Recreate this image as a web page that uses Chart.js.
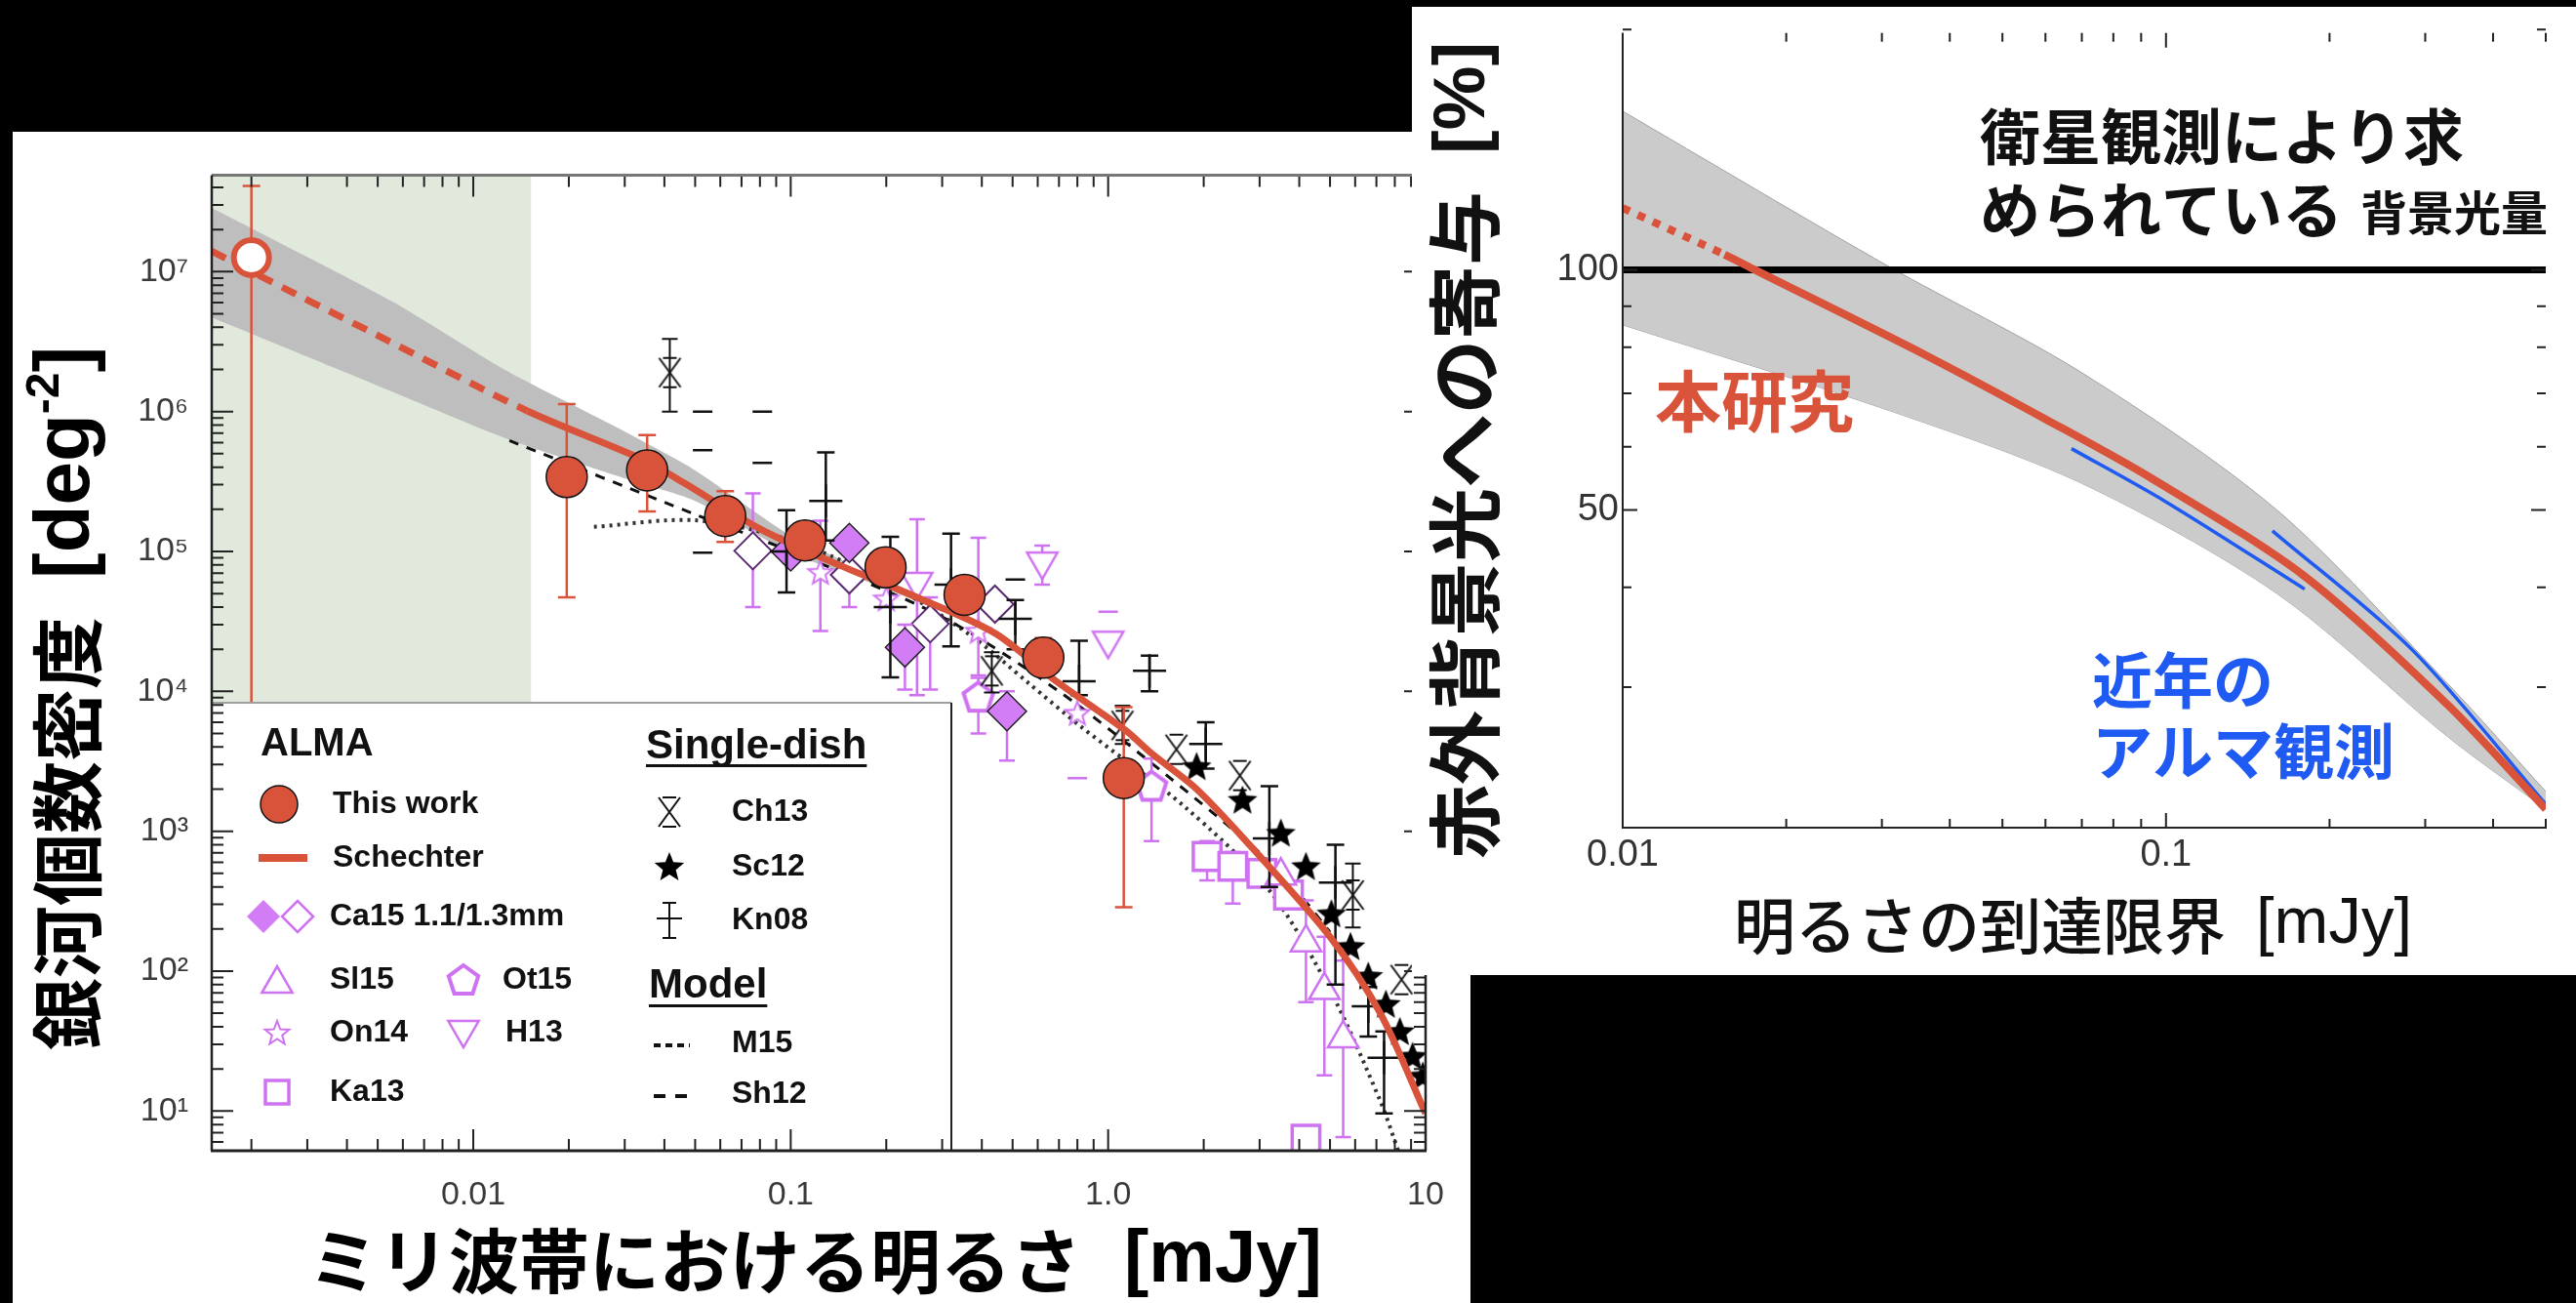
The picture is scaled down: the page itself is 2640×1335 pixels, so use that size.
<!DOCTYPE html>
<html>
<head>
<meta charset="utf-8">
<script src="https://cdn.jsdelivr.net/npm/chart.js@4.4.0/dist/chart.umd.min.js"></script>
<style>
html, body { margin: 0; padding: 0; background: #000; }
body { width: 2640px; height: 1335px; position: relative; overflow: hidden; }
#left { position: absolute; left: 13px; top: 135px; background: #fff; }
#right { position: absolute; left: 1447px; top: 7px; background: #fff; }
</style>
</head>
<body>
<canvas id="left" width="1494" height="1200"></canvas>
<canvas id="right" width="1193" height="992"></canvas>
<script>
// ---------- left panel : galaxy number counts ----------
const thisWorkX  = [0.002, 0.0197, 0.0353, 0.0622, 0.111, 0.199, 0.353, 0.625, 1.12];
const thisWorkY  = [1.26e7, 3.4e5, 3.8e5, 1.79e5, 1.2e5, 7.7e4, 4.9e4, 1.74e4, 2.4e3];
const thisWorkLo = [2, 4.7e4, 1.93e5, 1.17e5, 1.0e5, 6.6e4, 4.2e4, 1.3e4, 286];
const thisWorkHi = [4.1e7, 1.13e6, 6.8e5, 2.7e5, 1.4e5, 9.0e4, 5.7e4, 2.4e4, 7.7e3];

const schX = [0.0015, 0.002, 0.005, 0.0148, 0.0345, 0.046, 0.08, 0.135, 0.25, 0.44, 0.68, 1.13, 1.37, 1.9, 2.78, 5.0, 7.2, 10];
const schY = [1.4e7, 1.0e7, 3.5e6, 1.01e6, 4.5e5, 3.1e5, 1.45e5, 8.4e4, 4.7e4, 2.6e4, 1.2e4, 5.3e3, 3.6e3, 2.0e3, 804, 176, 50, 9.6];
const schDashedBelow = 0.0148;

const bandX  = [0.0015, 0.0055, 0.0125, 0.028, 0.05, 0.1, 0.2, 0.3];
const bandHi = [2.86e7, 6.2e6, 2.0e6, 7.8e5, 3.8e5, 1.3e5, 6.3e4, 4.1e4];
const bandLo = [4.7e6, 1.4e6, 6.5e5, 3.5e5, 2.3e5, 9.8e4, 5.4e4, 3.7e4];

const sh12X = [0.013, 0.05, 0.1, 0.3, 0.7, 1.5, 2.85, 3.7, 5.0];
const sh12Y = [6.2e5, 1.84e5, 1.0e5, 3.4e4, 1.0e4, 2.6e3, 780, 440, 190];
const m15X = [0.024, 0.05, 0.1, 0.2, 0.37, 0.56, 0.82, 1.74, 3.2, 5.0, 7.2, 8.2];
const m15Y = [1.5e5, 1.67e5, 1.2e5, 6.0e4, 2.5e4, 1.15e4, 5.6e3, 1.5e3, 385, 73, 11.8, 5.2];

const ch13X  = [0.0416, 0.43, 1.11, 1.64, 2.6, 5.9, 8.4];
const ch13Y  = [1.9e6, 1.4e4, 5.7e3, 3.85e3, 2.5e3, 350, 87];
const ch13Lo = [1.0e6, 9.8e3, 4.2e3, null, null, 205, null];
const ch13Hi = [3.3e6, 1.9e4, 7.9e3, null, null, 587, null];

const sc12X = [1.9, 2.65, 3.5, 4.2, 5.05, 5.8, 6.6, 7.5, 8.3, 9.1, 9.8];
const sc12Y = [2.9e3, 1.67e3, 970, 560, 257, 150, 92, 58, 37, 24.6, 17.8];

const kn08X  = [0.097, 0.129, 0.206, 0.32, 0.51, 0.81, 1.35, 2.03, 3.22, 5.2, 6.6, 7.4];
const kn08Y  = [1.0e5, 2.3e5, 4.0e4, 5.8e4, 3.3e4, 1.18e4, 1.4e4, 4.2e3, 890, 430, 56, 24];
const kn08Lo = [5.1e4, 1.2e5, 1.26e4, 2.1e4, 2.0e4, 9.4e3, 1.0e4, 2.8e3, 400, 80, 34, 9.6];
const kn08Hi = [1.97e5, 5.1e5, 1.27e5, 1.34e5, 4.5e4, 2.3e4, 1.8e4, 6.0e3, 2.1e3, 800, 77, 37];
const capsX = [0.0528, 0.0814, 0.0528, 0.0814, 0.0528, 0.51];
const capsY = [1.0e6, 1.0e6, 5.3e5, 4.3e5, 9.8e4, 6.3e4];

const ca15FX  = [0.1, 0.153, 0.229, 0.48];
const ca15FY  = [1.0e5, 1.15e5, 2.06e4, 7.2e3];
const ca15FLo = [null, null, 1.03e4, 3.2e3];
const ca15FHi = [null, null, 3.0e4, 1.0e4];
const ca15OX  = [0.076, 0.153, 0.275, 0.44];
const ca15OY  = [1.01e5, 6.8e4, 3.04e4, 4.2e4];
const ca15OLo = [4.0e4, 4.0e4, 1.03e4, null];
const ca15OHi = [2.6e5, 8.0e4, 4.7e4, null];

const sl15X  = [3.5, 4.2, 4.8, 5.5];
const sl15Y  = [480, 160, 73, 33];
const sl15Lo = [null, 60, 18, 6.5];
const sl15Hi = [null, 320, 176, 119];
const ot15X  = [0.39, 1.37];
const ot15Y  = [9.1e3, 2.1e3];
const ot15Lo = [5.0e3, 850];
const ot15Hi = [1.25e4, 3.3e3];
const on14X  = [0.124, 0.2, 0.39, 0.8];
const on14Y  = [7.1e4, 4.6e4, 2.7e4, 7.0e3];
const on14Lo = [2.7e4, null, 1.3e4, null];
const on14Hi = [1.66e5, null, 1.25e5, null];
const h13X  = [0.25, 0.62, 1.0];
const h13Y  = [5.8e4, 8.1e4, 2.2e4];
const h13Lo = [9.4e3, 5.8e4, null];
const h13Hi = [1.7e5, 1.1e5, 3.8e4];
const ka13X  = [2.05, 2.47, 3.05, 3.7, 4.2];
const ka13Y  = [660, 560, 500, 350, 6.3];
const ka13Lo = [445, 304, null, 68, null];
const ka13Hi = [850, 710, null, null, 31];
const pDashX = [1.0, 0.8];
const pDashY = [3.7e4, 2.4e3];

const greenLimit = 0.0152;
const leftXTicks = [0.01, 0.1, 1, 10];
const leftXLabels = ['0.01', '0.1', '1.0', '10'];
const leftYTicks = [10, 100, 1e3, 1e4, 1e5, 1e6, 1e7];
const leftYLabels = ['10¹', '10²', '10³', '10⁴', '10⁵', '10⁶', '10⁷'];

// ---------- right panel : contribution to the IR background ----------
const rRedX = [0.01, 0.0154, 0.0175, 0.0362, 0.06, 0.094, 0.18, 0.33, 0.5];
const rRedY = [119.5, 104.5, 100, 78.1, 65, 54.8, 41.3, 28.5, 21.1];
const rDottedBelow = 0.0154;
const rLineX = [0.01, 0.5];
const rLineY = [100, 100];
const rBlue1X = [0.067, 0.1, 0.18];
const rBlue1Y = [59.7, 51.2, 39.8];
const rBlue2X = [0.157, 0.284, 0.5];
const rBlue2Y = [47.1, 33.4, 21.4];
const rBandX  = [0.01, 0.031, 0.07, 0.16, 0.33, 0.5];
const rBandHi = [158, 100.8, 74.3, 50, 30.3, 22.2];
const rBandLo = [85.3, 66.6, 54, 39.3, 26, 21.1];
const rightXTicks = [0.01, 0.1];
const rightXLabels = ['0.01', '0.1'];
const rightYTicks = [50, 100];
const rightYLabels = ['50', '100'];

const RED = '#d9533b';
const PURPLE = '#cf72f2';
const PURPLE_FILL = '#d27cf6';
const BLUE = '#1f5af2';
const CJK = '"Noto Sans CJK JP", "Noto Sans CJK SC", sans-serif';
const LAT = '"Liberation Sans", Arial, sans-serif';

function pts(xs, ys) {
    return xs.map((x, i) => ({ x: x, y: ys[i] }));
}

function markCanvas(size, draw) {
    const c = document.createElement('canvas');
    c.width = size; c.height = size;
    draw(c.getContext('2d'), size / 2);
    return c;
}
function starPath(g, cx, cy, ro, ri) {
    g.beginPath();
    for (let k = 0; k < 10; k++) {
        const r = k % 2 ? ri : ro, t = -Math.PI / 2 + k * Math.PI / 5;
        g.lineTo(cx + r * Math.cos(t), cy + r * Math.sin(t));
    }
    g.closePath();
}
function polyPath(g, cx, cy, r, n, start) {
    g.beginPath();
    for (let k = 0; k < n; k++) {
        const t = start + k * 2 * Math.PI / n;
        g.lineTo(cx + r * Math.cos(t), cy + r * Math.sin(t));
    }
    g.closePath();
}

const starBlack = markCanvas(36, (g, c) => { starPath(g, c, c + 1, 16, 7); g.fillStyle = '#000'; g.fill(); });
const starPurple = markCanvas(32, (g, c) => { starPath(g, c, c + 1, 13, 5.5); g.fillStyle = '#fff'; g.fill(); g.lineWidth = 2; g.strokeStyle = PURPLE; g.stroke(); });
const pentPurple = markCanvas(42, (g, c) => { polyPath(g, c, c + 1, 16, 5, -Math.PI / 2); g.fillStyle = '#fff'; g.fill(); g.lineWidth = 4; g.strokeStyle = PURPLE; g.stroke(); });
const triDownPurple = markCanvas(42, (g, c) => { polyPath(g, c, c - 3, 18, 3, Math.PI / 2); g.fillStyle = '#fff'; g.fill(); g.lineWidth = 2.5; g.strokeStyle = PURPLE; g.stroke(); });
// Ch13: an x with short caps above and below
const ch13Mark = markCanvas(40, (g, c) => {
    g.strokeStyle = '#111'; g.lineWidth = 2;
    g.beginPath();
    g.moveTo(c - 11, c - 15); g.lineTo(c + 11, c + 15);
    g.moveTo(c + 11, c - 15); g.lineTo(c - 11, c + 15);
    g.moveTo(c - 7, c - 15); g.lineTo(c + 7, c - 15);
    g.moveTo(c - 7, c + 15); g.lineTo(c + 7, c + 15);
    g.stroke();
});

function logTicks(min, max, majors) {
    const out = [];
    for (let e = Math.floor(Math.log10(min)); e <= Math.ceil(Math.log10(max)); e++) {
        for (let m = 1; m <= 9; m++) {
            const v = +(m * Math.pow(10, e)).toPrecision(6);
            if (v >= min && v <= max * 1.0001) out.push({ v: v, major: majors ? majors.includes(v) : m === 1 });
        }
    }
    return out;
}

// error bars, drawn just under the points of their own dataset
const errorBars = {
    id: 'errorBars',
    beforeDatasetDraw(chart, args) {
        const ds = chart.data.datasets[args.index];
        if (!ds.errLo) return;
        const { ctx, chartArea: a, scales: { x, y } } = chart;
        const cap = ds.capW || 8;
        ctx.save();
        ctx.beginPath();
        ctx.rect(a.left, a.top, a.right - a.left, a.bottom - a.top);
        ctx.clip();
        ctx.strokeStyle = ds.errColor;
        ctx.lineWidth = ds.errWidth || 2;
        ds.data.forEach((p, i) => {
            const lo = ds.errLo[i], hi = ds.errHi[i];
            if (lo == null || hi == null) return;
            const px = x.getPixelForValue(p.x);
            const yHi = y.getPixelForValue(hi), yLo = y.getPixelForValue(lo);
            ctx.beginPath();
            ctx.moveTo(px, yHi); ctx.lineTo(px, yLo);
            ctx.moveTo(px - cap, yHi); ctx.lineTo(px + cap, yHi);
            ctx.moveTo(px - cap, yLo); ctx.lineTo(px + cap, yLo);
            ctx.stroke();
        });
        ctx.restore();
    }
};

function drawFrameTicks(chart, o) {
    const { ctx, chartArea: a, scales: { x, y } } = chart;
    ctx.save();
    ctx.strokeStyle = o.color;
    ctx.lineWidth = o.tickWidth;
    ctx.beginPath();
    o.xTicks.forEach(t => {
        const px = x.getPixelForValue(t.v), len = t.major ? o.major : o.minor;
        if (o.bottom) { ctx.moveTo(px, a.bottom); ctx.lineTo(px, a.bottom - len); }
        if (o.top) { ctx.moveTo(px, a.top); ctx.lineTo(px, a.top + len); }
    });
    o.yTicks.forEach(t => {
        const py = y.getPixelForValue(t.v), len = t.major ? o.major : o.minor;
        if (o.left) { ctx.moveTo(a.left, py); ctx.lineTo(a.left + len, py); }
        if (o.right) { ctx.moveTo(a.right, py); ctx.lineTo(a.right - len, py); }
    });
    ctx.stroke();
    o.lines.forEach(l => {
        ctx.strokeStyle = l[1];
        ctx.lineWidth = l[2];
        ctx.beginPath();
        if (l[0] === 'left') { ctx.moveTo(a.left, a.top); ctx.lineTo(a.left, a.bottom); }
        if (l[0] === 'right') { ctx.moveTo(a.right, a.top); ctx.lineTo(a.right, a.bottom); }
        if (l[0] === 'top') { ctx.moveTo(a.left, a.top); ctx.lineTo(a.right, a.top); }
        if (l[0] === 'bottom') { ctx.moveTo(a.left - 1, a.bottom); ctx.lineTo(a.right + 1, a.bottom); }
        ctx.stroke();
    });
    ctx.restore();
}

// text made of pieces in different fonts, drawn left to right from (x, y)
function drawParts(ctx, parts, x, y) {
    let cx = x;
    parts.forEach(p => {
        ctx.font = p[1];
        ctx.fillText(p[0], cx, y + (p[2] || 0));
        cx += ctx.measureText(p[0]).width + (p[3] || 0);
    });
}

function drawLeftLegend(chart) {
    const { ctx, chartArea: a } = chart;
    const top = 585, right = 962;
    ctx.save();
    ctx.fillStyle = '#fff';
    ctx.fillRect(a.left, top, right - a.left, a.bottom - top);
    ctx.lineWidth = 2;
    ctx.strokeStyle = '#a0a0a0';
    ctx.beginPath(); ctx.moveTo(a.left, top); ctx.lineTo(right, top); ctx.stroke();
    ctx.strokeStyle = '#222';
    ctx.beginPath(); ctx.moveTo(right, top); ctx.lineTo(right, a.bottom); ctx.stroke();

    ctx.fillStyle = '#111';
    ctx.textAlign = 'left';
    ctx.textBaseline = 'middle';
    ctx.font = 'bold 40px ' + LAT;
    ctx.fillText('ALMA', 254, 628);
    ctx.font = 'bold 42px ' + LAT;
    ctx.fillText('Single-dish', 649, 630);
    let w = ctx.measureText('Single-dish').width;
    ctx.fillRect(649, 648, w, 3);
    ctx.fillText('Model', 652, 875);
    w = ctx.measureText('Model').width;
    ctx.fillRect(652, 894, w, 3);

    ctx.font = 'bold 32px ' + LAT;
    ctx.fillText('This work', 328, 689);
    ctx.fillText('Schechter', 328, 744);
    ctx.fillText('Ca15 1.1/1.3mm', 325, 804);
    ctx.fillText('Sl15', 325, 869);
    ctx.fillText('Ot15', 502, 869);
    ctx.fillText('On14', 325, 923);
    ctx.fillText('H13', 505, 923);
    ctx.fillText('Ka13', 325, 984);
    ctx.fillText('Ch13', 737, 697);
    ctx.fillText('Sc12', 737, 753);
    ctx.fillText('Kn08', 737, 808);
    ctx.fillText('M15', 737, 934);
    ctx.fillText('Sh12', 737, 986);

    // markers
    ctx.beginPath(); ctx.arc(273, 689, 19, 0, Math.PI * 2);
    ctx.fillStyle = RED; ctx.fill(); ctx.lineWidth = 1.5; ctx.strokeStyle = '#111'; ctx.stroke();
    ctx.fillStyle = RED; ctx.fillRect(252, 740, 50, 8);
    polyPath(ctx, 257, 804, 17, 4, 0);
    ctx.fillStyle = PURPLE_FILL; ctx.fill();
    polyPath(ctx, 292, 804, 16, 4, 0);
    ctx.fillStyle = '#fff'; ctx.fill(); ctx.strokeStyle = PURPLE; ctx.lineWidth = 2.5; ctx.stroke();
    polyPath(ctx, 271, 873, 18, 3, -Math.PI / 2);
    ctx.stroke();
    ctx.drawImage(pentPurple, 462 - 21, 869 - 21);
    ctx.drawImage(starPurple, 271 - 16, 923 - 16);
    ctx.drawImage(triDownPurple, 462 - 21, 923 - 21);
    ctx.lineWidth = 3.5;
    ctx.strokeRect(259, 972, 24, 24);
    ctx.drawImage(starBlack, 673 - 18, 753 - 18);
    ctx.drawImage(ch13Mark, 673 - 20, 697 - 20);
    ctx.strokeStyle = '#111'; ctx.lineWidth = 2;
    ctx.beginPath();
    ctx.moveTo(673, 790); ctx.lineTo(673, 826);
    ctx.moveTo(666, 790); ctx.lineTo(680, 790);
    ctx.moveTo(666, 826); ctx.lineTo(680, 826);
    ctx.moveTo(660, 806); ctx.lineTo(686, 806);
    ctx.stroke();
    ctx.lineWidth = 4;
    ctx.setLineDash([7, 5]);
    ctx.beginPath(); ctx.moveTo(657, 936); ctx.lineTo(694, 936); ctx.stroke();
    ctx.setLineDash([12, 10]);
    ctx.beginPath(); ctx.moveTo(657, 988); ctx.lineTo(694, 988); ctx.stroke();
    ctx.restore();
}

const leftDecor = {
    id: 'leftDecor',
    beforeDatasetsDraw(chart) {
        const { ctx, chartArea: a, scales: { x } } = chart;
        ctx.save();
        ctx.fillStyle = '#e1e8dc';
        ctx.fillRect(a.left, a.top, x.getPixelForValue(greenLimit) - a.left, a.bottom - a.top);
        ctx.restore();
    },
    afterDatasetsDraw(chart) {
        drawLeftLegend(chart);
        drawFrameTicks(chart, {
            xTicks: logTicks(0.0015, 10), yTicks: logTicks(5.2, 4.9e7),
            major: 22, minor: 12, color: '#222', tickWidth: 2,
            bottom: true, top: true, left: true, right: true,
            lines: [['top', '#777', 3], ['left', '#222', 2.5], ['right', '#222', 2.5], ['bottom', '#222', 3]]
        });
    },
    afterDraw(chart) {
        const ctx = chart.ctx;
        ctx.save();
        ctx.fillStyle = '#000';
        ctx.textAlign = 'left';
        ctx.textBaseline = 'middle';
        drawParts(ctx, [['ミリ波帯における明るさ', 'bold 72px ' + CJK, 0, 44], ['[mJy]', 'bold 76px ' + LAT]], 303, 1157);
        ctx.translate(56, 941);
        ctx.rotate(-Math.PI / 2);
        drawParts(ctx, [['銀河個数密度', 'bold 74px ' + CJK, 0, 39], ['[deg', 'bold 80px ' + LAT], ['-2', 'bold 48px ' + LAT, -22], [']', 'bold 80px ' + LAT]], 0, 0);
        ctx.restore();
    }
};

const rightDecor = {
    id: 'rightDecor',
    afterDatasetsDraw(chart) {
        drawFrameTicks(chart, {
            xTicks: logTicks(0.01, 0.5),
            yTicks: logTicks(20, 200, [50, 100]),
            major: 15, minor: 9, color: '#222', tickWidth: 2,
            bottom: true, top: true, left: true, right: true,
            lines: [['left', '#222', 2], ['bottom', '#222', 2]]
        });
    },
    afterDraw(chart) {
        const ctx = chart.ctx;
        ctx.save();
        ctx.textAlign = 'left';
        ctx.textBaseline = 'middle';
        ctx.fillStyle = '#111';
        ctx.font = 'bold 62px ' + CJK;
        ctx.fillText('衛星観測により求', 582, 133);
        ctx.fillText('められている', 582, 208);
        ctx.font = 'bold 48px ' + CJK;
        ctx.fillText('背景光量', 972, 211);
        ctx.fillStyle = RED;
        ctx.font = 'bold 68px ' + CJK;
        ctx.fillText('本研究', 249, 404);
        ctx.fillStyle = BLUE;
        ctx.font = 'bold 62px ' + CJK;
        ctx.fillText('近年の', 697, 690);
        ctx.fillText('アルマ観測', 697, 763);
        ctx.fillStyle = '#111';
        drawParts(ctx, [['明るさの到達限界', '500 63px ' + CJK, 0, 31], ['[mJy]', '67px ' + LAT]], 330, 941);
        ctx.translate(54, 873);
        ctx.rotate(-Math.PI / 2);
        drawParts(ctx, [['赤外背景光への寄与', 'bold 76px ' + CJK, 0, 38], ['[%]', 'bold 74px ' + LAT]], 0, 0);
        ctx.restore();
    }
};

function scatterSet(label, xs, ys, opts) {
    return Object.assign({ label: label, data: pts(xs, ys), showLine: false }, opts);
}
function lineSet(label, xs, ys, opts) {
    return Object.assign({ label: label, data: pts(xs, ys), showLine: true, pointRadius: 0, fill: false }, opts);
}

const leftChart = new Chart(document.getElementById('left').getContext('2d'), {
    type: 'scatter',
    data: {
        datasets: [
            scatterSet('This work', thisWorkX, thisWorkY, {
                pointStyle: 'circle',
                pointRadius: c => c.dataIndex === 0 ? 18 : 21,
                pointBackgroundColor: c => c.dataIndex === 0 ? '#fff' : RED,
                pointBorderColor: c => c.dataIndex === 0 ? RED : '#111',
                pointBorderWidth: c => c.dataIndex === 0 ? 6 : 1.5,
                errLo: thisWorkLo, errHi: thisWorkHi, errColor: RED, errWidth: 2.5, capW: 9
            }),
            lineSet('Schechter', schX, schY, {
                borderColor: RED, borderWidth: 7, tension: 0.3,
                segment: { borderDash: c => c.p1.parsed.x <= schDashedBelow ? [16, 11] : undefined }
            }),
            scatterSet('Sc12', sc12X, sc12Y, { pointStyle: starBlack, pointRadius: 12 }),
            scatterSet('Ch13', ch13X, ch13Y, {
                pointStyle: ch13Mark, pointRadius: 14,
                errLo: ch13Lo, errHi: ch13Hi, errColor: '#111', errWidth: 2, capW: 8
            }),
            scatterSet('Kn08', kn08X, kn08Y, {
                pointStyle: 'cross', pointRadius: 17, pointBorderColor: '#111', pointBorderWidth: 2.5,
                errLo: kn08Lo, errHi: kn08Hi, errColor: '#111', errWidth: 2.5, capW: 9
            }),
            scatterSet('Kn08 caps', capsX, capsY, { pointStyle: 'line', pointRadius: 10, pointBorderColor: '#111', pointBorderWidth: 2.5 }),
            scatterSet('Ca15 1.1mm', ca15FX, ca15FY, {
                pointStyle: 'rectRot', pointRadius: 20, pointBackgroundColor: PURPLE_FILL, pointBorderColor: '#222', pointBorderWidth: 1.5,
                errLo: ca15FLo, errHi: ca15FHi, errColor: PURPLE, errWidth: 2.5
            }),
            scatterSet('Ca15 1.3mm', ca15OX, ca15OY, {
                pointStyle: 'rectRot', pointRadius: 19, pointBackgroundColor: '#fff', pointBorderColor: '#5a2a70', pointBorderWidth: 2,
                errLo: ca15OLo, errHi: ca15OHi, errColor: PURPLE, errWidth: 2.5
            }),
            scatterSet('Sl15', sl15X, sl15Y, {
                pointStyle: 'triangle', pointRadius: 18, pointBackgroundColor: '#fff', pointBorderColor: PURPLE, pointBorderWidth: 2.5,
                errLo: sl15Lo, errHi: sl15Hi, errColor: PURPLE, errWidth: 2.5
            }),
            scatterSet('Ot15', ot15X, ot15Y, { pointStyle: pentPurple, pointRadius: 14, errLo: ot15Lo, errHi: ot15Hi, errColor: PURPLE, errWidth: 2.5 }),
            scatterSet('On14', on14X, on14Y, { pointStyle: starPurple, pointRadius: 12, errLo: on14Lo, errHi: on14Hi, errColor: PURPLE, errWidth: 2.5 }),
            scatterSet('H13', h13X, h13Y, { pointStyle: triDownPurple, pointRadius: 14, errLo: h13Lo, errHi: h13Hi, errColor: PURPLE, errWidth: 2.5 }),
            scatterSet('Ka13', ka13X, ka13Y, {
                pointStyle: 'rect', pointRadius: 20, pointBackgroundColor: '#fff', pointBorderColor: PURPLE, pointBorderWidth: 3.5,
                errLo: ka13Lo, errHi: ka13Hi, errColor: PURPLE, errWidth: 2.5
            }),
            scatterSet('purple caps', pDashX, pDashY, { pointStyle: 'line', pointRadius: 10, pointBorderColor: PURPLE, pointBorderWidth: 2.5 }),
            lineSet('Sh12', sh12X, sh12Y, { borderColor: '#111', borderWidth: 3, borderDash: [10, 9], tension: 0.3 }),
            lineSet('M15', m15X, m15Y, { borderColor: '#333', borderWidth: 4, borderDash: [3, 5], tension: 0.3 }),
            lineSet('band upper', bandX, bandHi, { borderWidth: 0, borderColor: 'rgba(0,0,0,0)', backgroundColor: '#bebebe', fill: '+1', tension: 0.2 }),
            lineSet('band lower', bandX, bandLo, { borderWidth: 0, borderColor: 'rgba(0,0,0,0)', tension: 0.2 })
        ]
    },
    options: {
        responsive: false,
        animation: false,
        events: [],
        layout: { padding: { left: 0, top: 22, right: 46, bottom: 0 } },
        scales: {
            x: {
                type: 'logarithmic', min: 0.0015, max: 10,
                afterFit: s => { s.height = 156; },
                afterBuildTicks: s => { s.ticks = leftXTicks.map(v => ({ value: v })); },
                grid: { display: false, drawTicks: false },
                border: { display: false },
                ticks: {
                    autoSkip: false, maxRotation: 0, minRotation: 0, padding: 25,
                    color: '#3a3a3a', font: { family: LAT, size: 34 },
                    callback: (v, i) => leftXLabels[i]
                }
            },
            y: {
                type: 'logarithmic', min: 5.2, max: 4.9e7,
                afterFit: s => { s.width = 204; },
                afterBuildTicks: s => { s.ticks = leftYTicks.map(v => ({ value: v })); },
                grid: { display: false, drawTicks: false },
                border: { display: false },
                ticks: {
                    autoSkip: false, padding: 24,
                    color: '#3a3a3a', font: { family: LAT, size: 34 },
                    callback: (v, i) => leftYLabels[i]
                }
            }
        },
        plugins: { legend: { display: false }, tooltip: { enabled: false } }
    },
    plugins: [errorBars, leftDecor]
});

const rightChart = new Chart(document.getElementById('right').getContext('2d'), {
    type: 'scatter',
    data: {
        datasets: [
            lineSet('本研究', rRedX, rRedY, {
                borderColor: RED, borderWidth: 8, tension: 0.3,
                segment: { borderDash: c => c.p1.parsed.x <= rDottedBelow ? [8, 9] : undefined }
            }),
            lineSet('衛星観測', rLineX, rLineY, { borderColor: '#000', borderWidth: 7 }),
            lineSet('アルマ 1', rBlue1X, rBlue1Y, { borderColor: BLUE, borderWidth: 3.5, tension: 0.3 }),
            lineSet('アルマ 2', rBlue2X, rBlue2Y, { borderColor: BLUE, borderWidth: 3.5, tension: 0.3 }),
            lineSet('band upper', rBandX, rBandHi, { borderColor: '#a0a0a0', borderWidth: 1, backgroundColor: '#cbcbcb', fill: '+1', tension: 0.3 }),
            lineSet('band lower', rBandX, rBandLo, { borderColor: '#a0a0a0', borderWidth: 1, tension: 0.3 })
        ]
    },
    options: {
        responsive: false,
        animation: false,
        events: [],
        layout: { padding: { left: 0, top: 15, right: 31, bottom: 0 } },
        scales: {
            x: {
                type: 'logarithmic', min: 0.01, max: 0.5,
                afterFit: s => { s.height = 151; },
                afterBuildTicks: s => { s.ticks = rightXTicks.map(v => ({ value: v })); },
                grid: { display: false, drawTicks: false },
                border: { display: false },
                ticks: {
                    autoSkip: false, maxRotation: 0, minRotation: 0, padding: 6,
                    color: '#333', font: { family: LAT, size: 38 },
                    callback: (v, i) => rightXLabels[i]
                }
            },
            y: {
                type: 'logarithmic', min: 20, max: 198,
                afterFit: s => { s.width = 216; },
                afterBuildTicks: s => { s.ticks = rightYTicks.map(v => ({ value: v })); },
                grid: { display: false, drawTicks: false },
                border: { display: false },
                ticks: {
                    autoSkip: false, padding: 4,
                    color: '#333', font: { family: LAT, size: 38 },
                    callback: (v, i) => rightYLabels[i]
                }
            }
        },
        plugins: { legend: { display: false }, tooltip: { enabled: false } }
    },
    plugins: [rightDecor]
});
</script>
</body>
</html>
